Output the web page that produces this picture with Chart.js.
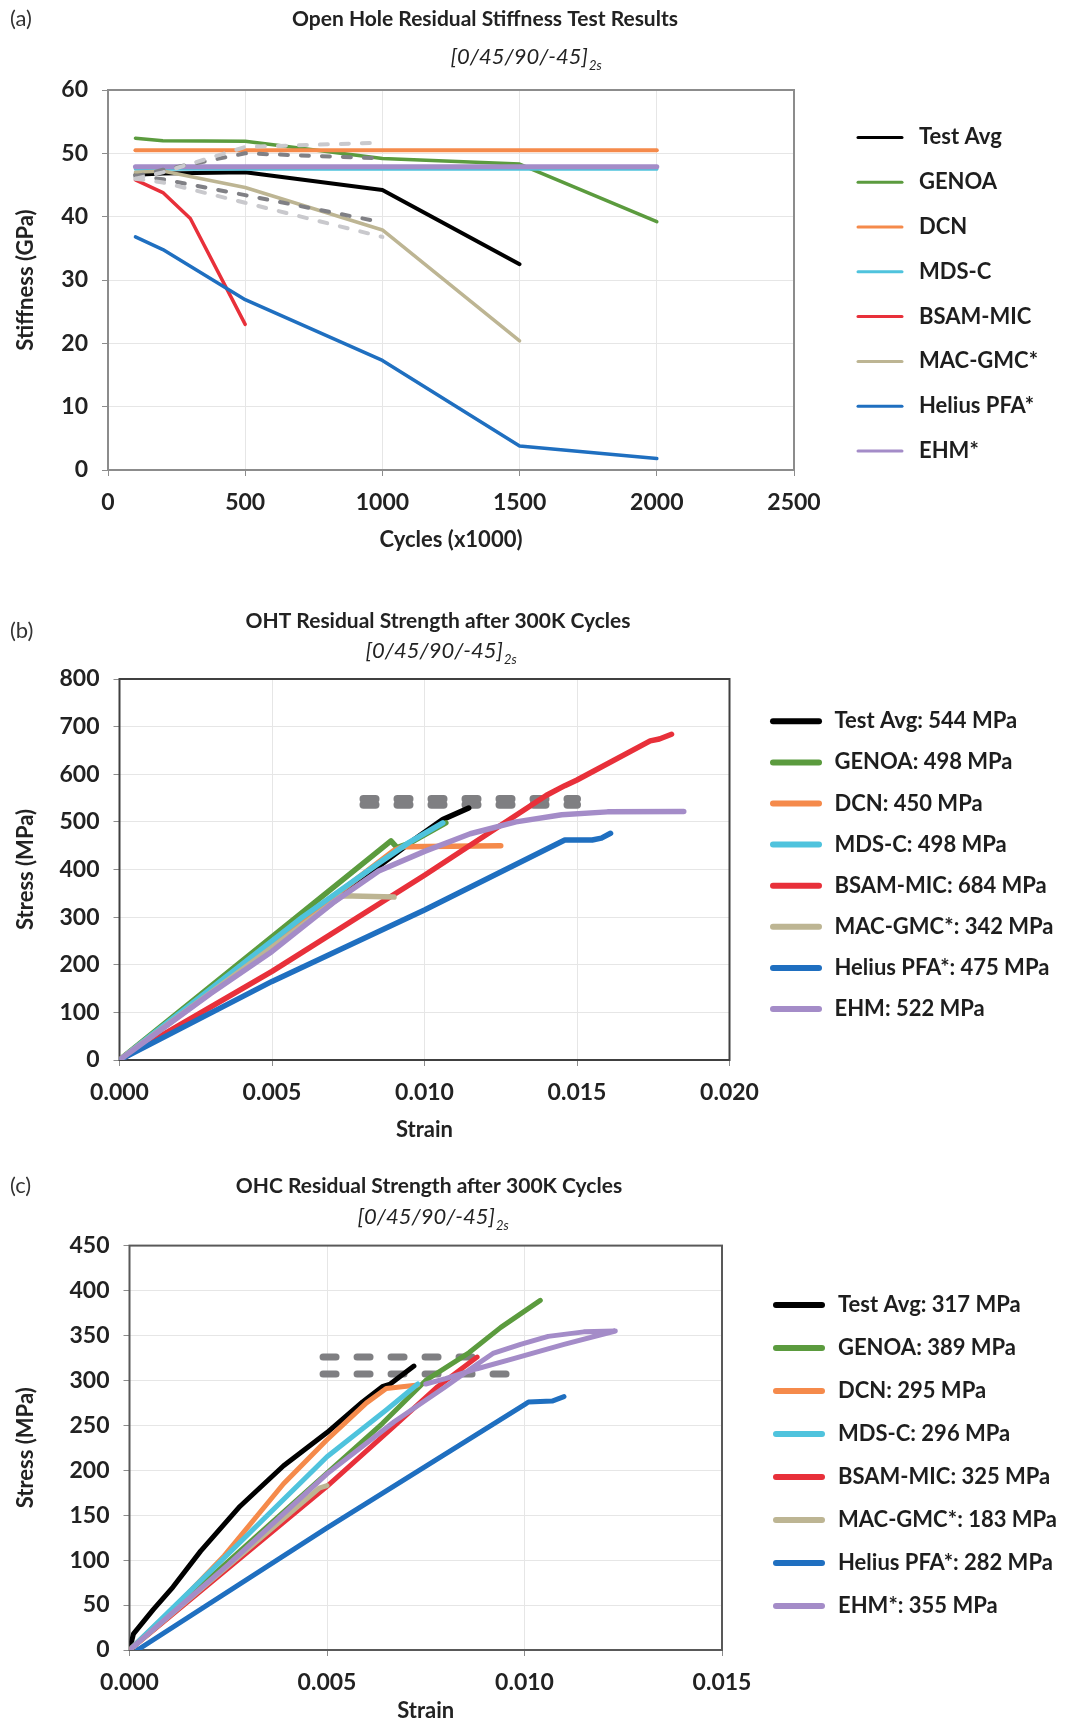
<!DOCTYPE html>
<html>
<head>
<meta charset="utf-8">
<title>Open hole residual stiffness and strength</title>
<script src="https://cdn.jsdelivr.net/npm/chart.js@4.4.1/dist/chart.umd.min.js"></script>
<style>
  html, body { margin: 0; padding: 0; background: #fff; }
  #wrap { width: 1072px; height: 1724px; }
  canvas { display: block; }
</style>
</head>
<body>
<div id="wrap">
  <canvas id="chartA" width="1072" height="590"></canvas>
  <canvas id="chartB" width="1072" height="560"></canvas>
  <canvas id="chartC" width="1072" height="574"></canvas>
</div>
<script>
// model names, same order in all three panels
const modelNames = ["Test Avg", "GENOA", "DCN", "MDS-C", "BSAM-MIC", "MAC-GMC*", "Helius PFA*", "EHM*"];
const ohtLegend = ["Test Avg: 544 MPa", "GENOA: 498 MPa", "DCN: 450 MPa", "MDS-C: 498 MPa",
  "BSAM-MIC: 684 MPa", "MAC-GMC*: 342 MPa", "Helius PFA*: 475 MPa", "EHM: 522 MPa"];
const ohcLegend = ["Test Avg: 317 MPa", "GENOA: 389 MPa", "DCN: 295 MPa", "MDS-C: 296 MPa",
  "BSAM-MIC: 325 MPa", "MAC-GMC*: 183 MPa", "Helius PFA*: 282 MPa", "EHM*: 355 MPa"];
const modelColors = ["#000000", "#5b9b3e", "#f58a4b", "#4fc3dd", "#e8303a", "#bdb593", "#1f6fc0", "#a48cc8"];

// (a) residual stiffness, [cycles x1000, GPa]
const stiffTestAvg = [[100, 46.6], [200, 46.8], [500, 47.0], [1000, 44.2], [1500, 32.5]];
const stiffGenoa = [[100, 52.4], [200, 52.0], [500, 51.9], [1000, 49.2], [1500, 48.3], [2000, 39.2]];
const stiffDcn = [[100, 50.5], [200, 50.5], [500, 50.5], [1000, 50.5], [1500, 50.5], [2000, 50.5]];
const stiffMdsc = [[100, 47.5], [200, 47.5], [500, 47.5], [1000, 47.5], [1500, 47.5], [2000, 47.5]];
const stiffBsam = [[100, 45.8], [200, 43.8], [300, 39.7], [500, 23.0]];
const stiffMacGmc = [[100, 47.0], [200, 47.2], [500, 44.6], [1000, 37.9], [1500, 20.4]];
const stiffHelius = [[100, 36.8], [200, 34.8], [500, 26.9], [1000, 17.3], [1500, 3.8], [2000, 1.8]];
const stiffEhm = [[100, 47.9], [200, 47.9], [500, 47.9], [1000, 47.9], [1500, 47.9], [2000, 47.9]];
// test scatter bands (dashed)
const stiffDarkUpper = [[100, 46.3], [200, 47.4], [500, 50.0], [1000, 49.2]];
const stiffDarkLower = [[100, 46.5], [200, 45.9], [500, 43.4], [1000, 39.1]];
const stiffLightUpper = [[100, 46.0], [200, 47.0], [500, 51.0], [1000, 51.7]];
const stiffLightLower = [[100, 46.0], [200, 45.4], [500, 42.2], [1000, 36.8]];

// (b) OHT stress-strain, [strain, MPa]
const ohtTestAvg = [[0, 0], [0.0095, 455], [0.0106, 505], [0.01145, 529]];
const ohtGenoa = [[0, 0], [0.0089, 460], [0.0091, 446], [0.0095, 455], [0.0107, 498]];
const ohtDcn = [[0, 0], [0.0090, 440], [0.0093, 448], [0.0125, 450]];
const ohtMdsc = [[0, 0], [0.0060, 300], [0.0086, 418], [0.0095, 457], [0.0106, 498]];
const ohtBsam = [[0, 0], [0.0050, 186], [0.0100, 388], [0.0140, 556], [0.0146, 576], [0.0150, 588],
  [0.0174, 670], [0.0177, 674], [0.0181, 684]];
const ohtMacGmc = [[0, 0], [0.0073, 345], [0.0090, 342]];
const ohtHelius = [[0, 0], [0.0050, 165], [0.0100, 315], [0.0146, 462], [0.0155, 462], [0.0158, 466], [0.0161, 476]];
const ohtEhm = [[0, 0], [0.0030, 140], [0.0050, 228], [0.0070, 330], [0.0085, 397], [0.0100, 438],
  [0.0115, 475], [0.0130, 500], [0.0145, 515], [0.0160, 521], [0.0185, 522]];
const ohtTestUpper = [[0.0080, 548], [0.0150, 548]];
const ohtTestLower = [[0.0080, 536], [0.0150, 536]];

// (c) OHC stress-strain, [strain, MPa]
const ohcTestAvg = [[0, 0], [0.0001, 18], [0.0006, 45], [0.0011, 70], [0.0018, 110], [0.0028, 160],
  [0.0039, 205], [0.0050, 242], [0.0059, 276], [0.0064, 293], [0.0066, 296], [0.0072, 316]];
const ohcGenoa = [[0, 0], [0.0064, 252], [0.0075, 300], [0.0086, 331], [0.0094, 359], [0.0104, 389]];
const ohcDcn = [[0, 0], [0.0012, 50], [0.0024, 105], [0.0039, 185], [0.0050, 234], [0.0060, 275],
  [0.0065, 291], [0.0069, 293], [0.0073, 295]];
const ohcMdsc = [[0, 0], [0.0025, 107], [0.0050, 215], [0.0065, 267], [0.0073, 296]];
const ohcBsam = [[0, 0], [0.0050, 182], [0.0067, 249], [0.0078, 293], [0.0088, 326]];
const ohcMacGmc = [[0, 0], [0.0048, 180], [0.0050, 183]];
const ohcHelius = [[0.0002, 0], [0.0050, 136], [0.0100, 273], [0.0101, 276], [0.0107, 277], [0.0110, 282]];
const ohcEhm = [[0, 0], [0.0025, 95], [0.0050, 196], [0.0067, 254], [0.0080, 293], [0.0088, 318],
  [0.0092, 330], [0.0099, 340], [0.0106, 349], [0.0115, 354], [0.0123, 355],
  [0.0110, 340], [0.0097, 324], [0.0088, 313], [0.0080, 302], [0.0075, 296]];
const ohcTestUpper = [[0.0049, 326], [0.0089, 326]];
const ohcTestLower = [[0.0049, 307], [0.0097, 307]];

Chart.defaults.font.family = "Lato";

const pts = arr => arr.map(p => ({ x: p[0], y: p[1] }));

function lineSet(data, color, width, order, extra) {
  return Object.assign({
    data: pts(data),
    borderColor: color,
    borderWidth: width,
    showLine: true,
    pointRadius: 0,
    pointHoverRadius: 0,
    fill: false,
    tension: 0,
    order: order,
    borderJoinStyle: "round",
    borderCapStyle: "round"
  }, extra || {});
}

// frame, panel tag, title and legend
const decoPlugin = {
  id: "deco",
  beforeDatasetsDraw(chart, args, opts) {
    const { ctx, chartArea: a } = chart;
    ctx.save();
    ctx.strokeStyle = opts.frameColor;
    ctx.lineWidth = 2;
    ctx.strokeRect(a.left, a.top, a.right - a.left, a.bottom - a.top);
    ctx.restore();
  },
  afterDraw(chart, args, opts) {
    const ctx = chart.ctx;
    ctx.save();
    ctx.textBaseline = "middle";
    ctx.fillStyle = "#333";

    ctx.font = "22px Lato";
    ctx.textAlign = "left";
    ctx.fillText(opts.tag, 10, opts.tagY);

    ctx.fillStyle = "#222";
    ctx.font = "bold 21px Lato";
    ctx.textAlign = "center";
    ctx.fillText(opts.title, opts.titleX, opts.titleY);

    ctx.font = "italic 22px Lato";
    ctx.textAlign = "right";
    ctx.fillText("[0/45/90/-45]", opts.subX, opts.subY);
    ctx.font = "italic 13px Lato";
    ctx.textAlign = "left";
    ctx.fillText("2s", opts.subX + 1, opts.subY + 9);

    // legend
    ctx.font = "bold 22px Lato";
    ctx.fillStyle = "#1e1e1e";
    ctx.lineCap = "round";
    opts.labels.forEach((label, i) => {
      const y = opts.legY + i * opts.legGap;
      ctx.strokeStyle = modelColors[i];
      ctx.lineWidth = opts.legWidth;
      ctx.beginPath();
      ctx.moveTo(opts.legX0, y);
      ctx.lineTo(opts.legX1, y);
      ctx.stroke();
      ctx.fillText(label, opts.legTextX, y);
    });
    ctx.restore();
  }
};

const tickFont = { family: "Lato", size: 23, weight: "bold" };
const axisTitleFont = { family: "Lato", size: 22, weight: "bold" };

function makeScales(o) {
  return {
    x: {
      type: "linear", min: o.xMin, max: o.xMax,
      ticks: { stepSize: o.xStep, color: "#222", font: tickFont, padding: 13, maxRotation: 0, autoSkip: false,
        callback: v => o.xFmt(v) },
      grid: { color: "#e6e6e6", tickColor: "#8c8c8c", tickLength: 6 },
      border: { display: false },
      title: { display: true, text: o.xTitle, color: "#222", font: axisTitleFont,
        padding: { top: 0, bottom: o.xTitlePad } },
      afterFit: s => { s.height = o.xHeight; }
    },
    y: {
      type: "linear", min: o.yMin, max: o.yMax,
      ticks: { stepSize: o.yStep, color: "#222", font: tickFont, padding: 14 },
      grid: { color: "#e6e6e6", tickColor: "#8c8c8c", tickLength: 6 },
      border: { display: false },
      title: { display: true, text: o.yTitle, color: "#222", font: axisTitleFont,
        padding: { top: 13, bottom: 0 } },
      afterFit: s => { s.width = o.yWidth; }
    }
  };
}

function modelSets(seriesList, width, widths) {
  return seriesList.map((d, i) =>
    lineSet(d, modelColors[i], (widths && widths[i]) || width, seriesList.length - i));
}

// (a) residual stiffness
new Chart(document.getElementById("chartA"), {
  type: "scatter",
  data: {
    datasets: modelSets([stiffTestAvg, stiffGenoa, stiffDcn, stiffMdsc, stiffBsam, stiffMacGmc, stiffHelius, stiffEhm],
      3.5, [4, 3.5, 4, 3, 3.5, 3.5, 3.5, 5]).concat([
      lineSet(stiffLightUpper, "#c9c9cd", 4, 0, { borderDash: [8, 13] }),
      lineSet(stiffLightLower, "#c9c9cd", 4, 0, { borderDash: [8, 13] }),
      lineSet(stiffDarkUpper, "#808085", 4, 0, { borderDash: [8, 13] }),
      lineSet(stiffDarkLower, "#808085", 4, 0, { borderDash: [8, 13] })
    ])
  },
  options: {
    responsive: false,
    animation: false,
    layout: { padding: { left: 0, top: 90, right: 278, bottom: 30 } },
    plugins: {
      legend: { display: false },
      tooltip: { enabled: false },
      deco: {
        frameColor: "#8c8c8c",
        tag: "(a)", tagY: 19,
        title: "Open Hole Residual Stiffness Test Results", titleX: 485, titleY: 19,
        subX: 588, subY: 57,
        labels: modelNames, legX0: 858, legX1: 902, legTextX: 919, legY: 137.4, legGap: 44.8, legWidth: 3
      }
    },
    scales: makeScales({
      xMin: 0, xMax: 2500, xStep: 500, xFmt: v => String(v), xTitle: "Cycles (x1000)", xTitlePad: 7, xHeight: 90,
      yMin: 0, yMax: 60, yStep: 10, yTitle: "Stiffness (GPa)", yWidth: 108
    })
  },
  plugins: [decoPlugin]
});

// (b) OHT residual strength
new Chart(document.getElementById("chartB"), {
  type: "scatter",
  data: {
    datasets: modelSets([ohtTestAvg, ohtGenoa, ohtDcn, ohtMdsc, ohtBsam, ohtMacGmc, ohtHelius, ohtEhm], 5.5).concat([
      lineSet(ohtTestUpper, "#7f7f82", 8, 20, { borderDash: [12, 22] }),
      lineSet(ohtTestLower, "#7f7f82", 8, 20, { borderDash: [12, 22] })
    ])
  },
  options: {
    responsive: false,
    animation: false,
    layout: { padding: { left: 0, top: 89, right: 342.5, bottom: 0 } },
    plugins: {
      legend: { display: false },
      tooltip: { enabled: false },
      deco: {
        frameColor: "#404040",
        tag: "(b)", tagY: 41,
        title: "OHT Residual Strength after 300K Cycles", titleX: 438, titleY: 31,
        subX: 503, subY: 61,
        labels: ohtLegend, legX0: 773, legX1: 819, legTextX: 834.5, legY: 131.3, legGap: 41.1, legWidth: 6
      }
    },
    scales: makeScales({
      xMin: 0, xMax: 0.020, xStep: 0.005, xFmt: v => v.toFixed(3), xTitle: "Strain", xTitlePad: 7, xHeight: 90,
      yMin: 0, yMax: 800, yStep: 100, yTitle: "Stress (MPa)", yWidth: 119.5
    })
  },
  plugins: [decoPlugin]
});

// (c) OHC residual strength
new Chart(document.getElementById("chartC"), {
  type: "scatter",
  data: {
    datasets: modelSets([ohcTestAvg, ohcGenoa, ohcDcn, ohcMdsc, ohcBsam, ohcMacGmc, ohcHelius, ohcEhm], 5).concat([
      lineSet(ohcTestUpper, "#7f7f82", 7, 20, { borderDash: [13, 21] }),
      lineSet(ohcTestLower, "#7f7f82", 7, 20, { borderDash: [13, 21] })
    ])
  },
  options: {
    responsive: false,
    animation: false,
    layout: { padding: { left: 0, top: 95.6, right: 350, bottom: 0 } },
    plugins: {
      legend: { display: false },
      tooltip: { enabled: false },
      deco: {
        frameColor: "#595959",
        tag: "(c)", tagY: 36,
        title: "OHC Residual Strength after 300K Cycles", titleX: 429, titleY: 36.4,
        subX: 495, subY: 67,
        labels: ohcLegend, legX0: 776, legX1: 822, legTextX: 838, legY: 155, legGap: 43, legWidth: 6
      }
    },
    scales: makeScales({
      xMin: 0, xMax: 0.015, xStep: 0.005, xFmt: v => v.toFixed(3), xTitle: "Strain", xTitlePad: 0, xHeight: 74,
      yMin: 0, yMax: 450, yStep: 50, yTitle: "Stress (MPa)", yWidth: 129.5
    })
  },
  plugins: [decoPlugin]
});
</script>
</body>
</html>
